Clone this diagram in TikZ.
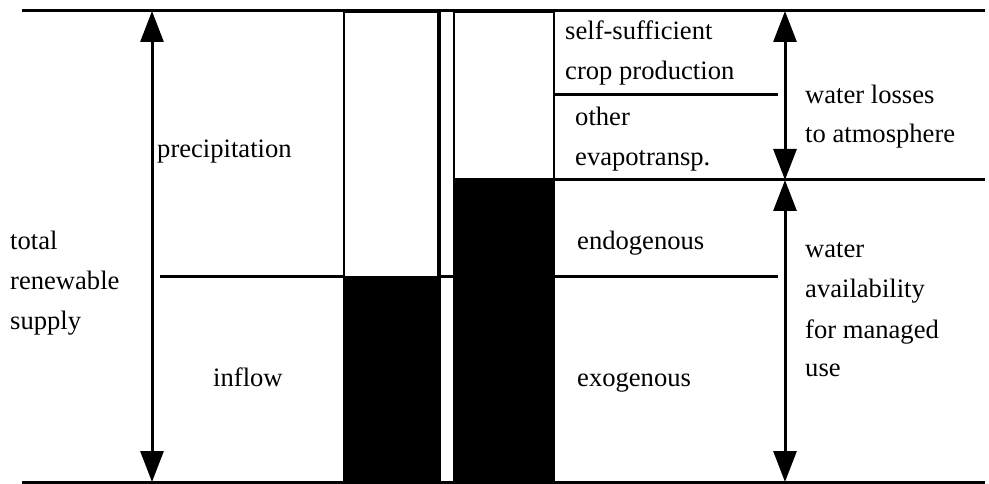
\documentclass[tikz,border=0pt]{standalone}
\usepackage{fontspec}
\setmainfont{Liberation Serif}
\usetikzlibrary{arrows.meta}
\begin{document}
\begin{tikzpicture}[x=1pt,y=-1pt,
  lbl/.style={anchor=base west,inner sep=0pt,font=\fontsize{26.6}{30}\selectfont},
  rule/.style={line width=3pt},
  dbl/.style={line width=3pt,{Triangle[length=31pt,width=23pt]}-{Triangle[length=31pt,width=23pt]}},
  colwhite/.style={draw,line width=2pt,fill=white},
  colblack/.style={draw,line width=2pt,fill=black}]
\useasboundingbox (0,0) rectangle (989,484);
% coordinates
\coordinate (tl) at (22,11);
\coordinate (tr) at (985,11);
\coordinate (bl) at (22,482);
\coordinate (br) at (985,482);
\coordinate (midl) at (160,276);
\coordinate (midr) at (778,276);
\coordinate (upl) at (555,95);
\coordinate (upr) at (778,95);
\coordinate (evl) at (555,180);
\coordinate (evr) at (985,180);
\coordinate (la1) at (152,11);
\coordinate (la2) at (152,482);
\coordinate (ra1) at (785,11);
\coordinate (ra2) at (785,180);
\coordinate (ra3) at (785,482);
% horizontal rules
\draw[rule] (tl) -- (tr);
\draw[rule] (bl) -- (br);
\draw[rule] (midl) -- (midr);
\draw[rule] (upl) -- (upr);
\draw[rule] (evl) -- (evr);
% columns
\node[colwhite,inner sep=0pt,minimum width=94pt,minimum height=265pt,anchor=north west] (c1w) at (343,11) {};
\node[colblack,inner sep=0pt,minimum width=94pt,minimum height=206pt,anchor=north west] (c1b) at (343,276) {};
\node[colwhite,inner sep=0pt,minimum width=100pt,minimum height=167pt,anchor=north west] (c2w) at (453,11) {};
\node[colblack,inner sep=0pt,minimum width=100pt,minimum height=304pt,anchor=north west] (c2b) at (453,178) {};
\draw[line width=3pt] (c1w.north east) -- (c1b.south east);
% arrows
\draw[dbl] (la1) -- (la2);
\draw[dbl] (ra1) -- (ra2);
\draw[dbl] (ra2) -- (ra3);
% labels
\node[lbl] (t1) at (10,249) {total};
\node[lbl] (t2) at (10,289) {renewable};
\node[lbl] (t3) at (10,329) {supply};
\node[lbl] (prec) at (157,158) {precipitation};
\node[lbl] (infl) at (213,386) {inflow};
\node[lbl] (ss1) at (565,40) {self-sufficient};
\node[lbl] (ss2) at (565,80) {crop production};
\node[lbl] (oe1) at (575,126) {other};
\node[lbl] (oe2) at (575,166) {evapotransp.};
\node[lbl] (endo) at (577,250) {endogenous};
\node[lbl] (exo) at (577,386) {exogenous};
\node[lbl] (wl1) at (805,104) {water losses};
\node[lbl] (wl2) at (805,143) {to atmosphere};
\node[lbl] (wa1) at (805,258) {water};
\node[lbl] (wa2) at (805,298) {availability};
\node[lbl] (wa3) at (805,338) {for managed};
\node[lbl] (wa4) at (805,376) {use};
\end{tikzpicture}
\end{document}
